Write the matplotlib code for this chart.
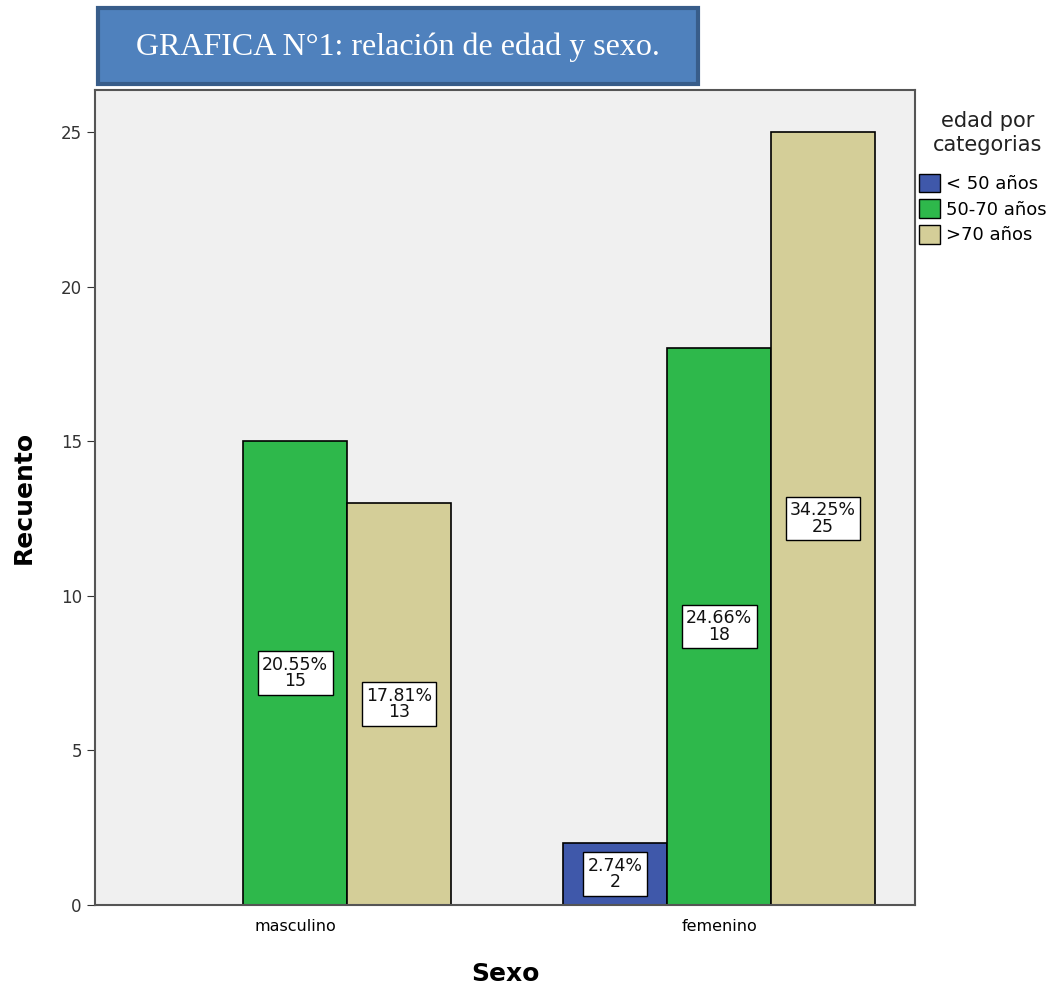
import matplotlib.pyplot as plt
from matplotlib.patches import FancyBboxPatch, Patch
import numpy as np

# Conteo por sexo y categoria de edad
sexo = ["masculino", "femenino"]
categorias = ["< 50 años", "50-70 años", ">70 años"]
recuento = {
    "< 50 años": [0, 2],
    "50-70 años": [15, 18],
    ">70 años": [13, 25],
}
total = 73
colores = ["#3F58AA", "#2EB84B", "#D4CE98"]

fig = plt.figure(figsize=(10.62, 9.92), dpi=100)
W, H = 1062, 992
ax = fig.add_axes([95 / W, 1 - 905 / H, 820 / W, 815 / H])
ax.set_facecolor("#F0F0F0")

x = np.arange(len(sexo))
ancho = 0.245
for i, (cat, col) in enumerate(zip(categorias, colores)):
    vals = recuento[cat]
    pos = x + (i - 1) * ancho
    for xp, v in zip(pos, vals):
        if v == 0:
            continue
        ax.bar(xp, v, width=ancho, color=col, edgecolor="black", linewidth=1.2, zorder=2)
        ax.text(xp, v / 2, f"{v / total * 100:.2f}%\n{v}", ha="center", va="center",
                fontsize=12.5, linespacing=0.9, zorder=3, color="#111111",
                bbox=dict(boxstyle="square,pad=0.25", fc="white", ec="black", lw=1))

ax.set_xlim(-0.472, 1.462)
ax.set_ylim(0, 26.36)
ax.set_xticks(x)
ax.set_xticklabels(sexo, fontsize=11.5)
ax.set_yticks([0, 5, 10, 15, 20, 25])
ax.tick_params(axis="y", labelsize=12, length=6, color="#333333", labelcolor="#333333")
ax.tick_params(axis="x", length=0, pad=10)
for s in ax.spines.values():
    s.set_color("#555555")
    s.set_linewidth(1.5)

ax.set_ylabel("Recuento", fontsize=18, fontweight="bold", labelpad=18)
ax.set_xlabel("Sexo", fontsize=18, fontweight="bold", labelpad=20)

# Leyenda a la derecha
handles = [Patch(facecolor=c, edgecolor="black", label=l) for c, l in zip(colores, categorias)]
fig.text(988 / W, 1 - 133 / H, "edad por\ncategorias", ha="center", va="center",
         fontsize=15, color="#222222", linespacing=1.2)
leg = fig.legend(handles=handles, loc="upper left", bbox_to_anchor=(917 / W, 1 - 172 / H),
                 frameon=False, fontsize=13, handlelength=1.2, handleheight=1.2,
                 handletextpad=0.3, labelspacing=0.35, borderaxespad=0, borderpad=0.1)

# Recuadro del titulo
caja = FancyBboxPatch((98 / W, 1 - 84 / H), 600 / W, 76 / H, boxstyle="square,pad=0",
                      transform=fig.transFigure, fc="#4F81BD", ec="#385D8A", lw=3)
fig.patches.append(caja)
fig.text(398 / W, 1 - 47 / H, "GRAFICA N°1: relación de edad y sexo.", ha="center", va="center",
         fontsize=23, color="white", family="Liberation Serif")

fig.savefig("out.png", dpi=100)
